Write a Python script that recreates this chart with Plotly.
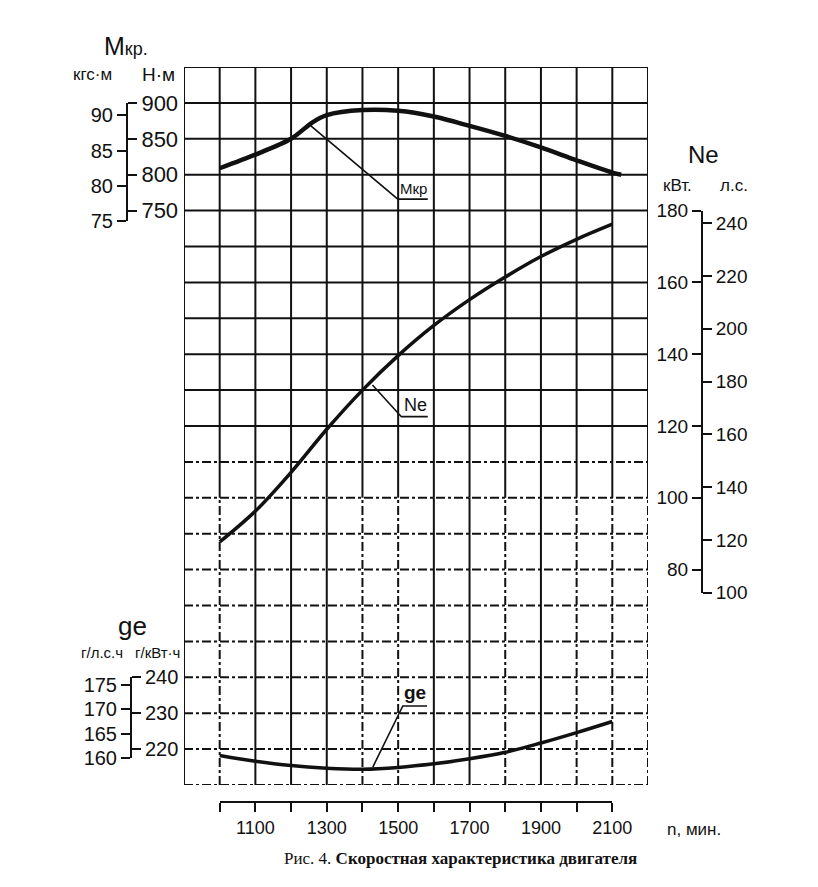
import plotly.graph_objects as go

# --- data ---
rpm_mkr = [1000, 1100, 1200, 1260, 1300, 1400, 1500, 1600, 1700, 1800, 1900, 2000, 2100, 2125]
mkr_nm = [809, 828, 850, 873, 883, 890, 889, 881, 868, 854, 838, 820, 803, 800]

rpm = [1000, 1100, 1200, 1300, 1400, 1500, 1600, 1700, 1800, 1900, 2000, 2100]
ne_kw = [87.7, 96.3, 107.1, 119.1, 130.0, 139.6, 148.0, 155.2, 161.5, 167.2, 172.0, 176.2]
ge_gkwh = [218.2, 216.6, 215.4, 214.7, 214.4, 214.9, 215.9, 217.3, 219.1, 221.7, 224.6, 227.7]

mkr_nm_ticks = [750, 800, 850, 900]
mkr_kgf_ticks = [75, 80, 85, 90]
ne_kw_ticks = [80, 100, 120, 140, 160, 180]
ne_hp_ticks = [100, 120, 140, 160, 180, 200, 220, 240]
ge_kwh_ticks = [220, 230, 240]
ge_hp_ticks = [160, 165, 170, 175]
rpm_ticks = list(range(1000, 2200, 100))
rpm_labels = [str(v) if v % 200 == 100 else "" for v in rpm_ticks]

NM_PER_KGF = 9.80665
HP_PER_KW = 1.35962

# --- geometry (pixels of the 818x887 page) ---
W, H = 818, 887
X0, X1 = 184, 648          # 900 .. 2200 rpm
Y0, Y1 = 67, 785           # top / bottom of the grid
RPM_RANGE = [900, 2200]
MKR_RANGE = [-50, 950]
NE_RANGE = [20, 220]
GE_RANGE = [210, 410]
BLACK = "#111111"
FONT = "Liberation Sans"


def fx(px):
    return px / W


def fy(px):
    return 1 - px / H


def xpx(v):
    return X0 + (v - RPM_RANGE[0]) / (RPM_RANGE[1] - RPM_RANGE[0]) * (X1 - X0)


def ypx(v, rng):
    return Y0 + (rng[1] - v) / (rng[1] - rng[0]) * (Y1 - Y0)


fig = go.Figure()

# curves
fig.add_trace(go.Scatter(x=rpm_mkr, y=mkr_nm, mode="lines", yaxis="y",
                         line=dict(color=BLACK, width=4.5, shape="spline", smoothing=0.8)))
fig.add_trace(go.Scatter(x=rpm, y=ne_kw, mode="lines", yaxis="y2",
                         line=dict(color=BLACK, width=3.5, shape="spline")))
fig.add_trace(go.Scatter(x=rpm, y=ge_gkwh, mode="lines", yaxis="y3",
                         line=dict(color=BLACK, width=3.5, shape="spline")))

# invisible traces so the scale axes get drawn
for ax, val in [("y4", 800), ("y5", 80), ("y6", 120), ("y7", 160), ("y8", 230), ("y9", 170)]:
    fig.add_trace(go.Scatter(x=[1000], y=[val], yaxis=ax, mode="markers",
                             marker=dict(opacity=0), hoverinfo="skip"))
fig.add_trace(go.Scatter(x=[1500], y=[800], xaxis="x2", yaxis="y4", mode="markers",
                         marker=dict(opacity=0), hoverinfo="skip"))

# grid
shapes = []
for lvl in range(950, -100, -50):
    dash = "solid" if lvl >= 450 else "dashdot"
    shapes.append(dict(type="line", xref="x", yref="y", x0=900, x1=2200, y0=lvl, y1=lvl,
                       line=dict(color=BLACK, width=2, dash=dash), layer="below"))
lower_dashed = {1000, 1400, 1500, 1800, 2000, 2100, 2200}
for v in range(900, 2300, 100):
    shapes.append(dict(type="line", xref="x", yref="y", x0=v, x1=v, y0=350, y1=950,
                       line=dict(color=BLACK, width=2), layer="below"))
    shapes.append(dict(type="line", xref="x", yref="y", x0=v, x1=v, y0=-50, y1=350,
                       line=dict(color=BLACK, width=2,
                                 dash="dashdot" if v in lower_dashed else "solid"),
                       layer="below"))


def leader(yref, pts):
    (xa, ya), (xb, yb), (xc, yc) = pts
    shapes.append(dict(type="path", xref="x", yref=yref,
                       path=f"M{xa},{ya} L{xb},{yb} L{xc},{yc}",
                       line=dict(color=BLACK, width=1.6)))


leader("y", [(1253, 869), (1499, 766), (1583, 766)])
leader("y2", [(1428, 131.4), (1509, 122.6), (1583, 122.6)])
leader("y3", [(1429, 215.0), (1513, 232.0), (1581, 232.0)])


def scale_axis(size):
    return dict(ticks="outside", ticklen=9, tickwidth=2, tickcolor=BLACK,
                showline=True, linewidth=2, linecolor=BLACK, showgrid=False,
                zeroline=False, automargin=False,
                tickfont=dict(family=FONT, size=size, color=BLACK))


mkr_low = 75 * NM_PER_KGF
mkr_dom = [fy(ypx(mkr_low, MKR_RANGE)), fy(ypx(900, MKR_RANGE))]
ne_low = 100 / HP_PER_KW
ne_dom = [fy(ypx(ne_low, NE_RANGE)), fy(ypx(180, NE_RANGE))]
ge_low = 160 * HP_PER_KW
ge_dom = [fy(ypx(ge_low, GE_RANGE)), fy(ypx(240, GE_RANGE))]

hidden = dict(visible=False, automargin=False)

fig.update_layout(
    template="none",
    width=W, height=H,
    margin=dict(l=0, r=0, t=0, b=0, pad=0, autoexpand=False),
    paper_bgcolor="white", plot_bgcolor="rgba(0,0,0,0)",
    showlegend=False,
    shapes=shapes,
    xaxis=dict(domain=[fx(X0), fx(X1)], range=RPM_RANGE, anchor="y", **hidden),
    yaxis=dict(domain=[fy(Y1), fy(Y0)], range=MKR_RANGE, **hidden),
    yaxis2=dict(overlaying="y", range=NE_RANGE, **hidden),
    yaxis3=dict(overlaying="y", range=GE_RANGE, **hidden),
    yaxis4=dict(domain=mkr_dom, range=[mkr_low, 900], anchor="free", position=fx(127),
                side="right", tickvals=mkr_nm_ticks, **scale_axis(22)),
    yaxis5=dict(domain=mkr_dom, range=[75, 900 / NM_PER_KGF], anchor="free", position=fx(127),
                side="left", tickvals=mkr_kgf_ticks, **scale_axis(20)),
    yaxis6=dict(domain=ne_dom, range=[ne_low, 180], anchor="free", position=fx(702),
                side="left", tickvals=ne_kw_ticks, **scale_axis(19)),
    yaxis7=dict(domain=ne_dom, range=[100, 180 * HP_PER_KW], anchor="free", position=fx(702),
                side="right", tickvals=ne_hp_ticks, **scale_axis(19)),
    yaxis8=dict(domain=ge_dom, range=[ge_low, 240], anchor="free", position=fx(131),
                side="right", tickvals=ge_kwh_ticks, **scale_axis(20)),
    yaxis9=dict(domain=ge_dom, range=[160, 240 / HP_PER_KW], anchor="free", position=fx(131),
                side="left", tickvals=ge_hp_ticks, **scale_axis(20)),
    xaxis2=dict(domain=[fx(xpx(1000)), fx(xpx(2100))], range=[1000, 2100], anchor="free",
                position=fy(802), side="bottom", tickvals=rpm_ticks, ticktext=rpm_labels,
                **scale_axis(18)),
)


def label(text, px, py, size, family=FONT):
    fig.add_annotation(text=text, x=fx(px), y=fy(py), xref="paper", yref="paper",
                       xanchor="center", yanchor="middle", showarrow=False,
                       font=dict(family=family, size=size, color=BLACK))


# axis headers
label("<span style='font-size:25px'>М</span>кр.", 126, 46, 18)
label("кгс·м", 92, 74, 17)
label("Н·м", 158, 74, 19)
label("Ne", 703, 154, 24)
label("кВт.", 677, 186, 17)
label("л.с.", 734, 186, 17)
label("ge", 132, 626, 26)
label("г/л.с.ч", 102, 652, 15)
label("г/кВт·ч", 157, 652, 15)
label("n, мин.", 694, 829, 17)

# curve labels
label("Мкр", 414, 188, 15)
label("Ne", 415, 405, 18)
label("<b>ge</b>", 415, 692, 19)

# caption
label("Рис. 4. <b>Скоростная характеристика двигателя</b>", 460, 858, 17,
      family="Liberation Serif")

# pin the chart to the page corner so the page is exactly the figure
pin = ("document.body.style.margin='0';"
       "var gd=document.getElementById('{plot_id}');"
       "gd.style.position='absolute';gd.style.left='0px';gd.style.top='0px';")
fig.write_html("out.html", post_script=pin, config={"displayModeBar": False})
